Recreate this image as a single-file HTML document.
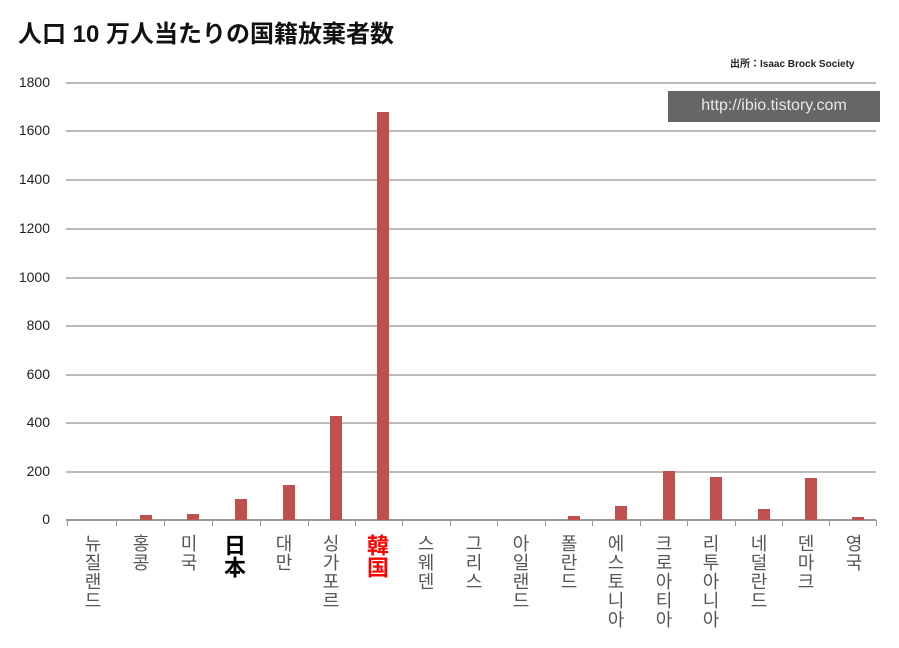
<!DOCTYPE html>
<html><head><meta charset="utf-8"><style>
body{margin:0;width:899px;height:648px;background:#fff;overflow:hidden;position:relative;font-family:"Liberation Sans","Noto Sans CJK JP",sans-serif}
.t{position:absolute}
.yl{position:absolute;left:0;width:50px;text-align:right;font-size:14px;color:#222}
.grid{position:absolute;left:66px;width:810px;height:2px;background:#bbb}
.bar{position:absolute;width:12px;background:#c0504d}
.xl{position:absolute;top:534px;writing-mode:vertical-rl;text-orientation:upright;font-family:"Noto Sans CJK KR","NanumGothic",sans-serif;font-size:18px;color:#555;line-height:1;letter-spacing:1px}
.tick{position:absolute;top:520px;width:1px;height:6px;background:#999}
</style></head><body>
<div class="t" style="left:18px;top:14px;font-size:24px;font-weight:bold;color:#111">人口 10 万人当たりの国籍放棄者数</div>
<div class="t" style="left:730px;top:55px;font-size:10px;font-weight:bold;color:#222">出所：Isaac Brock Society</div>
<div class="t" style="left:668px;top:91px;width:212px;height:31px;background:#666;color:#e8e8e8;font-size:16px;line-height:29px;text-align:center">http://ibio.tistory.com</div>
<div class="grid" style="top:82px"></div>
<div class="grid" style="top:130px"></div>
<div class="grid" style="top:179px"></div>
<div class="grid" style="top:228px"></div>
<div class="grid" style="top:277px"></div>
<div class="grid" style="top:325px"></div>
<div class="grid" style="top:374px"></div>
<div class="grid" style="top:422px"></div>
<div class="grid" style="top:471px"></div>
<div class="grid" style="top:519px;background:#999"></div>
<div class="yl" style="top:74px">1800</div>
<div class="yl" style="top:122px">1600</div>
<div class="yl" style="top:171px">1400</div>
<div class="yl" style="top:220px">1200</div>
<div class="yl" style="top:269px">1000</div>
<div class="yl" style="top:317px">800</div>
<div class="yl" style="top:366px">600</div>
<div class="yl" style="top:414px">400</div>
<div class="yl" style="top:463px">200</div>
<div class="yl" style="top:511px">0</div>
<div class="bar" style="left:140px;top:515px;height:5px"></div>
<div class="bar" style="left:187px;top:514px;height:6px"></div>
<div class="bar" style="left:235px;top:499px;height:21px"></div>
<div class="bar" style="left:283px;top:485px;height:35px"></div>
<div class="bar" style="left:330px;top:416px;height:104px"></div>
<div class="bar" style="left:377px;top:112px;height:408px"></div>
<div class="bar" style="left:568px;top:516px;height:4px"></div>
<div class="bar" style="left:615px;top:506px;height:14px"></div>
<div class="bar" style="left:663px;top:471px;height:49px"></div>
<div class="bar" style="left:710px;top:477px;height:43px"></div>
<div class="bar" style="left:758px;top:509px;height:11px"></div>
<div class="bar" style="left:805px;top:478px;height:42px"></div>
<div class="bar" style="left:852px;top:517px;height:3px"></div>
<div class="tick" style="left:67px"></div><div class="tick" style="left:116px"></div><div class="tick" style="left:164px"></div><div class="tick" style="left:212px"></div><div class="tick" style="left:260px"></div><div class="tick" style="left:308px"></div><div class="tick" style="left:355px"></div><div class="tick" style="left:402px"></div><div class="tick" style="left:450px"></div><div class="tick" style="left:497px"></div><div class="tick" style="left:545px"></div><div class="tick" style="left:592px"></div><div class="tick" style="left:640px"></div><div class="tick" style="left:687px"></div><div class="tick" style="left:735px"></div><div class="tick" style="left:782px"></div><div class="tick" style="left:829px"></div><div class="tick" style="left:876px"></div>
<div class="xl" style="left:84px">뉴질랜드</div>
<div class="xl" style="left:132px">홍콩</div>
<div class="xl" style="left:180px">미국</div>
<div class="xl" style="left:224px;font-family:'Noto Sans CJK JP',sans-serif;font-size:22px;font-weight:bold;color:#000;letter-spacing:0">日本</div>
<div class="xl" style="left:275px">대만</div>
<div class="xl" style="left:322px">싱가포르</div>
<div class="xl" style="left:367px;font-family:'Noto Sans CJK JP',sans-serif;font-size:22px;font-weight:bold;color:#f00;letter-spacing:0">韓国</div>
<div class="xl" style="left:417px">스웨덴</div>
<div class="xl" style="left:465px">그리스</div>
<div class="xl" style="left:512px">아일랜드</div>
<div class="xl" style="left:560px">폴란드</div>
<div class="xl" style="left:607px">에스토니아</div>
<div class="xl" style="left:655px">크로아티아</div>
<div class="xl" style="left:702px">리투아니아</div>
<div class="xl" style="left:750px">네덜란드</div>
<div class="xl" style="left:797px">덴마크</div>
<div class="xl" style="left:845px">영국</div>
</body></html>
